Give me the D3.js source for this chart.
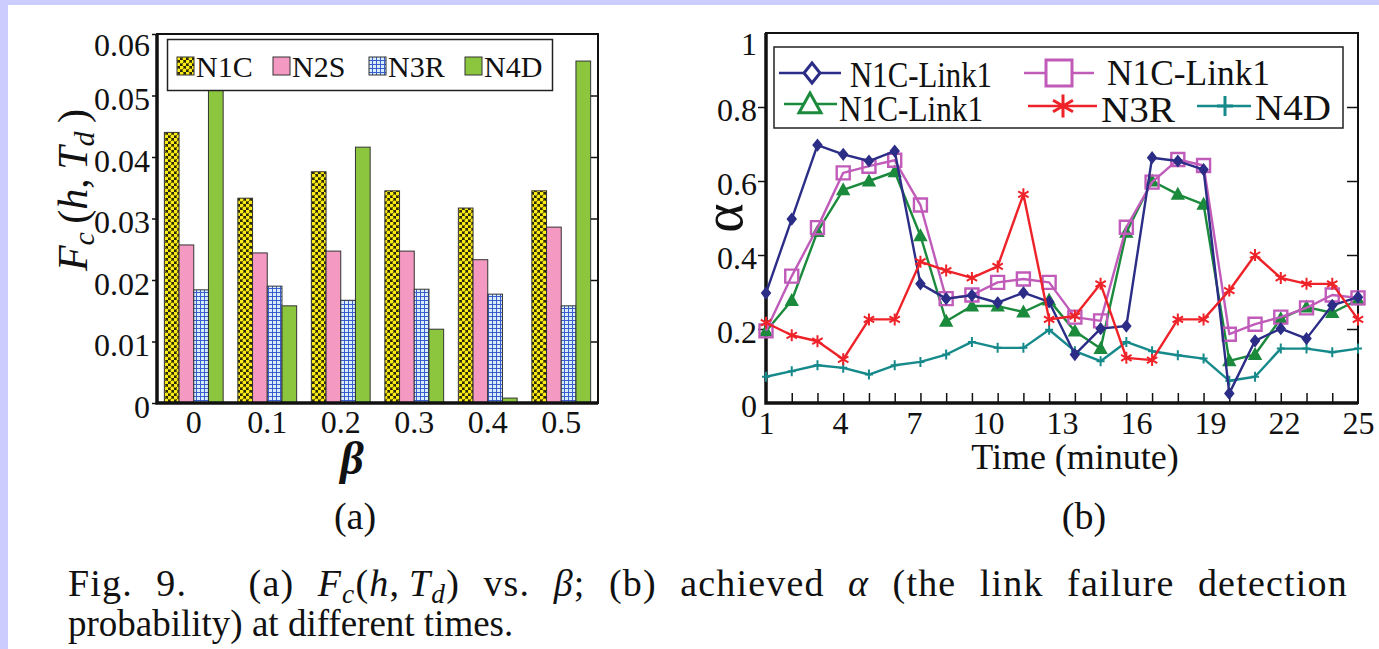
<!DOCTYPE html>
<html>
<head>
<meta charset="utf-8">
<script src="https://cdn.jsdelivr.net/npm/d3@7"></script>
<style>
  body { margin: 0; background: #fff; }
  svg { display: block; font-family: "Liberation Serif", "Times New Roman", serif; }
</style>
</head>
<body>
<svg id="fig" width="1379" height="649"></svg>
<script>
// ---- panel (a) data ----
const betas = ["0", "0.1", "0.2", "0.3", "0.4", "0.5"];
const barSeries = ["N1C", "N2S", "N3R", "N4D"];
const n1c = [0.0440, 0.0333, 0.0376, 0.0345, 0.0317, 0.0345];
const n2s = [0.0257, 0.0244, 0.0247, 0.0247, 0.0233, 0.0286];
const n3r = [0.0184, 0.0190, 0.0167, 0.0185, 0.0177, 0.0158];
const n4d = [0.0570, 0.0158, 0.0416, 0.0120, 0.0008, 0.0556];
const fcTicks = [0, 0.01, 0.02, 0.03, 0.04, 0.05, 0.06];

// ---- panel (b) data ----
const samples = [1, 2, 3, 4, 5, 6, 7, 8, 9, 10, 11, 12, 13, 14, 15, 16, 17, 18, 19, 20, 21, 22, 23, 24];
const timeLabels = [1, 4, 7, 10, 13, 16, 19, 22, 25];
const alphaTicks = [0, 0.2, 0.4, 0.6, 0.8, 1];
const lineNames = ["N1C-Link1", "N1C-Link1", "N1C-Link1", "N3R", "N4D"];
const linkNavy = [0.297, 0.497, 0.697, 0.672, 0.654, 0.681, 0.322, 0.282, 0.291, 0.271, 0.298, 0.273,
                  0.131, 0.201, 0.208, 0.663, 0.654, 0.631, 0.026, 0.168, 0.201, 0.174, 0.264, 0.286];
const linkMagenta = [0.195, 0.343, 0.474, 0.622, 0.640, 0.656, 0.535, 0.282, 0.292, 0.326, 0.335, 0.326,
                     0.232, 0.222, 0.475, 0.597, 0.658, 0.642, 0.186, 0.213, 0.232, 0.257, 0.292, 0.284];
const linkGreen = [0.194, 0.277, 0.463, 0.576, 0.600, 0.625, 0.452, 0.221, 0.262, 0.262, 0.246, 0.278,
                   0.194, 0.147, 0.461, 0.600, 0.564, 0.537, 0.114, 0.131, 0.228, 0.259, 0.244, 0.279];
const n3rLine = [0.217, 0.183, 0.167, 0.118, 0.226, 0.226, 0.382, 0.358, 0.338, 0.369, 0.564, 0.226,
                 0.235, 0.322, 0.122, 0.116, 0.226, 0.226, 0.304, 0.400, 0.338, 0.322, 0.322, 0.226];
const n4dLine = [0.071, 0.086, 0.102, 0.095, 0.077, 0.102, 0.111, 0.131, 0.165, 0.149, 0.149, 0.198,
                 0.140, 0.113, 0.165, 0.140, 0.129, 0.120, 0.060, 0.071, 0.147, 0.147, 0.137, 0.147];

const svg = d3.select("#fig");
const serif = "Liberation Serif, Times New Roman, serif";

// slide background strips
svg.append("rect").attr("x", 0).attr("y", 0).attr("width", 1379).attr("height", 5).attr("fill", "#ccccff");
svg.append("rect").attr("x", 0).attr("y", 0).attr("width", 8).attr("height", 649).attr("fill", "#ccccff");

// fill patterns
const defs = svg.append("defs");
const dots = defs.append("pattern").attr("id", "dots")
  .attr("patternUnits", "userSpaceOnUse").attr("width", 6).attr("height", 6);
dots.append("rect").attr("width", 6).attr("height", 6).attr("fill", "#2a2806");
[[1.5, 1.5], [4.5, 4.5]].forEach(([cx, cy]) => {
  dots.append("circle").attr("cx", cx).attr("cy", cy).attr("r", 1.95).attr("fill", "#fcec16");
});
const grid = defs.append("pattern").attr("id", "grid")
  .attr("patternUnits", "userSpaceOnUse").attr("width", 4).attr("height", 4);
grid.append("rect").attr("width", 4).attr("height", 4).attr("fill", "#d8eefa");
grid.append("path").attr("d", "M0,0.5H4M0.5,0V4").attr("stroke", "#3a5ccc").attr("stroke-width", 1);

const barFill = { N1C: "url(#dots)", N2S: "#f49ac2", N3R: "url(#grid)", N4D: "#8cc63f" };

function styleAxis(g, size) {
  g.attr("font-family", serif).attr("font-size", size);
  g.selectAll(".domain").remove();
  g.selectAll("line").attr("stroke", "#111").attr("stroke-width", 1.5);
  g.selectAll("text").attr("fill", "#111");
}

// =============== panel (a) ===============
const A = { left: 157, right: 598, top: 34, bottom: 403 };
const xb = d3.scaleBand().domain(betas).range([A.left, A.right]).paddingInner(0.2).paddingOuter(0.1);
const xin = d3.scaleBand().domain(barSeries).range([0, xb.bandwidth()]);
const yb = d3.scaleLinear().domain([0, 0.06]).range([A.bottom, A.top]);
const barValues = [n1c, n2s, n3r, n4d];

const gA = svg.append("g");

barSeries.forEach((s, si) => {
  gA.selectAll(null)
    .data(betas.map((b, i) => ({ b, v: barValues[si][i] })))
    .join("rect")
    .attr("x", d => xb(d.b) + xin(s))
    .attr("y", d => yb(d.v))
    .attr("width", xin.bandwidth())
    .attr("height", d => yb(0) - yb(d.v))
    .attr("fill", barFill[s])
    .attr("stroke", "#333")
    .attr("stroke-width", 1);
});

const axA = gA.append("g").attr("transform", `translate(${A.left},0)`)
  .call(d3.axisLeft(yb).tickValues(fcTicks).tickSize(5).tickPadding(2)
    .tickFormat(d => d === 0 ? "0" : d3.format(".2f")(d)));
styleAxis(axA, 32);
axA.selectAll("text").attr("dy", d => d === 0.06 ? "0.66em" : "0.45em");

const axAr = gA.append("g").attr("transform", `translate(${A.right},0)`)
  .call(d3.axisLeft(yb).tickValues(fcTicks.slice(1, 6)).tickSize(7).tickFormat(""));
styleAxis(axAr, 10);

const axAb = gA.append("g").attr("transform", `translate(0,${A.bottom})`)
  .call(d3.axisBottom(xb).tickSize(0).tickPadding(7));
styleAxis(axAb, 32);

gA.append("rect").attr("x", A.left).attr("y", A.top)
  .attr("width", A.right - A.left).attr("height", A.bottom - A.top)
  .attr("fill", "none").attr("stroke", "#111").attr("stroke-width", 2);
gA.append("path").attr("d", `M${A.left},${A.top}V${A.bottom}H${A.right}`)
  .attr("fill", "none").attr("stroke", "#111").attr("stroke-width", 3.5);

// legend (a)
gA.append("rect").attr("x", 167.5).attr("y", 39.5).attr("width", 385).attr("height", 51)
  .attr("fill", "#fff").attr("stroke", "#222").attr("stroke-width", 1.5);
barSeries.forEach((s, i) => {
  const x0 = 177 + i * 96;
  gA.append("rect").attr("x", x0).attr("y", 57).attr("width", 17).attr("height", 18)
    .attr("fill", barFill[s]).attr("stroke", "#333").attr("stroke-width", 1);
  gA.append("text").attr("x", x0 + 19).attr("y", 77)
    .attr("font-size", 30).attr("fill", "#111").text(s);
});

// y label (a)
const ylab = gA.append("text").attr("transform", "translate(87,190) rotate(-90)")
  .attr("text-anchor", "middle").attr("font-size", 42).attr("fill", "#111");
ylab.append("tspan").attr("font-style", "italic").text("F");
ylab.append("tspan").attr("font-style", "italic").attr("font-size", 30).attr("dy", 7).text("c");
ylab.append("tspan").attr("dy", -7).text("\u2009(");
ylab.append("tspan").attr("font-style", "italic").text("h");
ylab.append("tspan").text(",\u2009");
ylab.append("tspan").attr("font-style", "italic").text("T");
ylab.append("tspan").attr("font-style", "italic").attr("font-size", 30).attr("dy", 7).text("d");
ylab.append("tspan").attr("dy", -7).text("\u2009)");

gA.append("text").attr("x", 352).attr("y", 474).attr("text-anchor", "middle")
  .attr("font-size", 46).attr("font-style", "italic").attr("font-weight", "bold")
  .attr("fill", "#111").text("β");

svg.append("text").attr("x", 355).attr("y", 529).attr("text-anchor", "middle")
  .attr("font-size", 38).attr("fill", "#111").text("(a)");

// =============== panel (b) ===============
const B = { left: 766, right: 1358, top: 33, bottom: 403 };
const xt = d3.scaleLinear().domain([1, 24]).range([B.left, B.right]);
const xl = d3.scaleLinear().domain([1, 25]).range([B.left, B.right]);
const ya = d3.scaleLinear().domain([0, 1]).range([B.bottom, B.top]);

const gB = svg.append("g");

const axBl = gB.append("g").attr("transform", `translate(${B.left},0)`)
  .call(d3.axisLeft(ya).tickValues(alphaTicks).tickSize(8).tickPadding(1)
    .tickFormat(d => (d === 0 || d === 1) ? String(d) : d.toFixed(1)));
styleAxis(axBl, 32);
axBl.selectAll("text").attr("dy", d => d === 1 ? "0.68em" : "0.43em");
axBl.selectAll(".tick").filter(d => d === 0 || d === 1).select("line").remove();

const axBr = gB.append("g").attr("transform", `translate(${B.right},0)`)
  .call(d3.axisLeft(ya).tickValues(alphaTicks.slice(1, 5)).tickSize(11).tickFormat(""));
styleAxis(axBr, 10);

const axBt = gB.append("g").attr("transform", `translate(0,${B.bottom})`)
  .call(d3.axisBottom(xt).tickValues(samples.slice(1, 23)).tickSize(-10).tickFormat(""));
styleAxis(axBt, 10);

const axBb = gB.append("g").attr("transform", `translate(0,${B.bottom})`)
  .call(d3.axisBottom(xl).tickValues(timeLabels).tickSize(0).tickPadding(8));
styleAxis(axBb, 32);

gB.append("rect").attr("x", B.left).attr("y", B.top)
  .attr("width", B.right - B.left).attr("height", B.bottom - B.top)
  .attr("fill", "none").attr("stroke", "#111").attr("stroke-width", 2);
gB.append("path").attr("d", `M${B.left},${B.top}V${B.bottom}H${B.right}`)
  .attr("fill", "none").attr("stroke", "#111").attr("stroke-width", 3.5);

function marker(type, s) {
  const h = s / 2;
  if (type === "diamond") return `M0,${-h}L${h * 0.8},0L0,${h}L${-h * 0.8},0Z`;
  if (type === "square") return `M${-h},${-h}H${h}V${h}H${-h}Z`;
  if (type === "triangle") return `M0,${-h}L${h},${h * 0.8}L${-h},${h * 0.8}Z`;
  if (type === "star") {
    const c = Math.cos(Math.PI / 6) * h, sn = Math.sin(Math.PI / 6) * h;
    return `M0,${-h}V${h}M${-c},${-sn}L${c},${sn}M${-c},${sn}L${c},${-sn}`;
  }
  if (type === "plus") return `M0,${-h}V${h}M${-h * 0.8},0H${h * 0.8}`;
  return "";
}

const lineSeries = [
  { name: lineNames[4], values: n4dLine, color: "#16898b", marker: "plus", size: 10, filled: false },
  { name: lineNames[2], values: linkGreen, color: "#1b8a3c", marker: "triangle", size: 11, filled: true },
  { name: lineNames[1], values: linkMagenta, color: "#c05bba", marker: "square", size: 13, filled: false },
  { name: lineNames[0], values: linkNavy, color: "#2b2d86", marker: "diamond", size: 10, filled: true },
  { name: lineNames[3], values: n3rLine, color: "#ee2229", marker: "star", size: 12, filled: false }
];

const line = d3.line().x((d, i) => xt(samples[i])).y(d => ya(d));

lineSeries.forEach(s => {
  gB.append("path").attr("d", line(s.values))
    .attr("fill", "none").attr("stroke", s.color).attr("stroke-width", 2.4)
    .attr("stroke-linejoin", "round");
  gB.selectAll(null).data(s.values).join("path")
    .attr("transform", (d, i) => `translate(${xt(samples[i])},${ya(d)})`)
    .attr("d", marker(s.marker, s.size))
    .attr("fill", s.filled ? s.color : "none")
    .attr("stroke", s.color)
    .attr("stroke-width", s.marker === "square" ? 2.4 : 2);
});

// legend (b)
gB.append("rect").attr("x", 774).attr("y", 47).attr("width", 569).attr("height", 81)
  .attr("fill", "#fff").attr("stroke", "#222").attr("stroke-width", 1.5);
const legendB = [
  { s: 3, x1: 779, x2: 841, mx: 812, ly: 73, tx: 850, ty: 87, tw: 142, m: 20 },
  { s: 2, x1: 1024, x2: 1094, mx: 1059, ly: 73, tx: 1107, ty: 85, tw: 163, m: 26 },
  { s: 1, x1: 784, x2: 837, mx: 810, ly: 104, tx: 839, ty: 121, tw: 144, m: 22 },
  { s: 4, x1: 1028, x2: 1097, mx: 1063, ly: 106, tx: 1101, ty: 122, tw: 74, m: 23 },
  { s: 0, x1: 1197, x2: 1251, mx: 1225, ly: 106, tx: 1255, ty: 120, tw: 76, m: 20 }
];
legendB.forEach(L => {
  const s = lineSeries[L.s];
  gB.append("line").attr("x1", L.x1).attr("x2", L.x2).attr("y1", L.ly).attr("y2", L.ly)
    .attr("stroke", s.color).attr("stroke-width", 2.6);
  gB.append("path").attr("transform", `translate(${L.mx},${L.ly})`)
    .attr("d", marker(s.marker, L.m))
    .attr("fill", (s.marker === "plus" || s.marker === "star") ? "none" : "#fff")
    .attr("stroke", s.color).attr("stroke-width", 3);
  gB.append("text").attr("x", L.tx).attr("y", L.ty)
    .attr("font-size", 35).attr("fill", "#111")
    .attr("textLength", L.tw)
    .attr("lengthAdjust", "spacingAndGlyphs")
    .text(s.name);
});

gB.append("text").attr("transform", "translate(742,218) rotate(-90)")
  .attr("text-anchor", "middle").attr("font-size", 56).attr("fill", "#111").text("α");

gB.append("text").attr("x", 1075).attr("y", 469).attr("text-anchor", "middle")
  .attr("font-size", 36).attr("fill", "#111").text("Time (minute)");

svg.append("text").attr("x", 1084).attr("y", 529).attr("text-anchor", "middle")
  .attr("font-size", 38).attr("fill", "#111").text("(b)");

// =============== caption ===============
// runs: [text, style] with style 0 = roman, 1 = italic, 2 = italic subscript
const captionLine1 = [
  [["Fig.", 0]], [["9.", 0]], [["(a)", 0]],
  [["F", 1], ["c", 2], ["(", 0], ["h", 1], [",\u2009", 0], ["T", 1], ["d", 2], [")", 0]],
  [["vs.", 0]], [["β", 1], [";", 0]], [["(b)", 0]], [["achieved", 0]], [["α", 1]],
  [["(the", 0]], [["link", 0]], [["failure", 0]], [["detection", 0]]
];
const captionLine2 = "probability) at different times.";

const capSize = 38;
function addWord(g, runs, x, y) {
  const t = g.append("text").attr("x", x).attr("y", y).attr("font-size", capSize)
    .attr("letter-spacing", 1.2).attr("fill", "#111");
  let shift = 0;
  runs.forEach(([txt, st]) => {
    const sp = t.append("tspan").text(txt);
    const want = st === 2 ? 7 : 0;
    if (want !== shift) { sp.attr("dy", want - shift); shift = want; }
    if (st >= 1) sp.attr("font-style", "italic");
    if (st === 2) sp.attr("font-size", capSize * 0.72);
  });
  return t;
}
const capG = svg.append("g");
const capWords = captionLine1.map(r => addWord(capG, r, 0, 596));
const widths = capWords.map(t => t.node().getComputedTextLength());
const lineStart = 68, lineEnd = 1348, quad = 38;
const gap = (lineEnd - lineStart - d3.sum(widths) - quad) / (widths.length - 1);
let cx = lineStart;
capWords.forEach((t, i) => {
  t.attr("x", cx);
  cx += widths[i] + gap + (i === 1 ? quad : 0);
});
capG.append("text").attr("x", lineStart).attr("y", 636).attr("font-size", 37)
  .attr("fill", "#111").text(captionLine2);
</script>
</body>
</html>
